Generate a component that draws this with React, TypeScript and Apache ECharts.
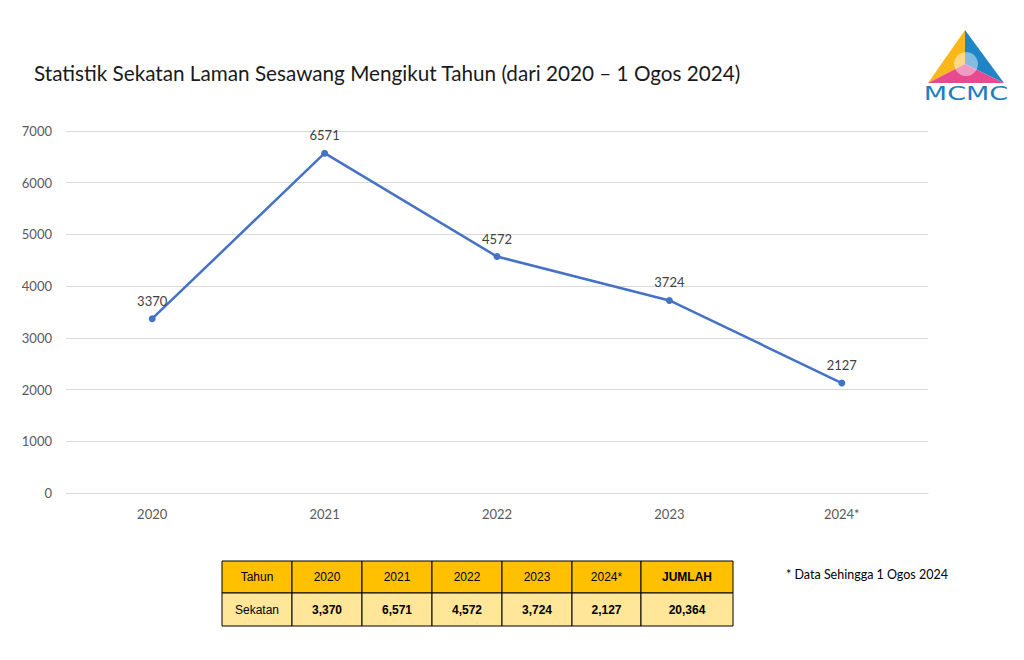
import React, { useEffect, useRef } from "react";
import * as echarts from "echarts";

const categories = ["2020", "2021", "2022", "2023", "2024*"];
const values = [3370, 6571, 4572, 3724, 2127];
const yTicks = { min: 0, max: 7000, interval: 1000 };
const titleText = "Statistik Sekatan Laman Sesawang Mengikut Tahun (dari 2020 – 1 Ogos 2024)";
const tableHeaderLabel = "Tahun";
const tableRowLabel = "Sekatan";
const tableTotalLabel = "JUMLAH";
const footnote = "* Data Sehingga 1 Ogos 2024";

const fmt = (n: number) => n.toLocaleString("en-US");

export default function App() {
  const ref = useRef<HTMLDivElement>(null);
  useEffect(() => {
    if (!ref.current) return;
    const chart = echarts.init(ref.current, undefined, { renderer: "svg" });
    const total = values.reduce((a, b) => a + b, 0);

    const colX = [222, 292, 362, 432, 502, 572, 641, 733];
    const rowY = [561, 593, 626];
    const headerCells = [tableHeaderLabel, ...categories, tableTotalLabel];
    const rowCells = [tableRowLabel, ...values.map(fmt), fmt(total)];
    const tableEls: any[] = [];
    for (let r = 0; r < 2; r++) {
      for (let c = 0; c < 7; c++) {
        const x = colX[c], w = colX[c + 1] - colX[c];
        const y = rowY[r], h = rowY[r + 1] - rowY[r];
        tableEls.push({
          type: "rect",
          shape: { x, y, width: w, height: h },
          style: { fill: r === 0 ? "#FFC000" : "#FFE699", stroke: "#000", lineWidth: 1 },
        });
        const bold = (r === 1 && c > 0) || (r === 0 && c === 6);
        tableEls.push({
          type: "text",
          x: x + w / 2,
          y: y + h / 2,
          style: {
            text: r === 0 ? headerCells[c] : rowCells[c],
            fill: "#000",
            font: `${bold ? "bold " : ""}12px "Liberation Sans", Arial, sans-serif`,
            align: "center",
            verticalAlign: "middle",
          },
        });
      }
    }

    const logo: any[] = [
      { type: "polygon", shape: { points: [[965, 30], [965, 64], [928, 83]] }, style: { fill: "#F8B81C" } },
      { type: "polygon", shape: { points: [[965, 30], [1004, 83], [965, 64]] }, style: { fill: "#1F86C6" } },
      { type: "polygon", shape: { points: [[928, 83], [965, 64], [1004, 83]] }, style: { fill: "#E84A90" } },
      { type: "circle", shape: { cx: 966, cy: 64, r: 12 }, style: { fill: "rgba(255,255,255,0.45)" } },
      {
        type: "text", x: 966, y: 93, scaleX: 1.35,
        style: { text: "MCMC", fill: "#1E7EC2", font: '20px "DejaVu Sans", sans-serif', align: "center", verticalAlign: "middle" },
      },
    ];

    chart.setOption({
      animation: false,
      backgroundColor: "#fff",
      title: {
        text: titleText,
        left: 29,
        top: 57,
        textStyle: { fontFamily: "Lato", fontSize: 20.7, fontWeight: "normal", color: "#1a1a1a" },
      },
      grid: { left: 66, right: 96, top: 131, bottom: 167, containLabel: false },
      xAxis: {
        type: "category",
        data: categories,
        boundaryGap: true,
        axisLine: { lineStyle: { color: "#d9d9d9" } },
        axisTick: { show: false },
        axisLabel: { color: "#595959", fontSize: 13, fontFamily: "Lato", margin: 14 },
      },
      yAxis: {
        type: "value",
        min: yTicks.min,
        max: yTicks.max,
        interval: yTicks.interval,
        axisLine: { show: false },
        axisTick: { show: false },
        splitLine: { lineStyle: { color: "#d9d9d9" } },
        axisLabel: { color: "#595959", fontSize: 13, fontFamily: "Lato", margin: 14, formatter: (v: number) => String(v) },
      },
      series: [
        {
          type: "line",
          data: values,
          symbol: "circle",
          symbolSize: 7,
          lineStyle: { color: "#4472C4", width: 2.5 },
          itemStyle: { color: "#4472C4" },
          label: { show: true, position: "top", distance: 8, color: "#404040", fontSize: 13, fontFamily: "Lato" },
        },
      ],
      graphic: [
        ...tableEls,
        ...logo,
        {
          type: "text", x: 786, y: 574,
          style: { text: footnote, fill: "#000", font: '12.5px Lato, sans-serif', verticalAlign: "middle" },
        },
      ],
    });
    return () => chart.dispose();
  }, []);
  return <div ref={ref} style={{ position: "fixed", left: 0, top: 0, width: 1024, height: 660 }} />;
}
